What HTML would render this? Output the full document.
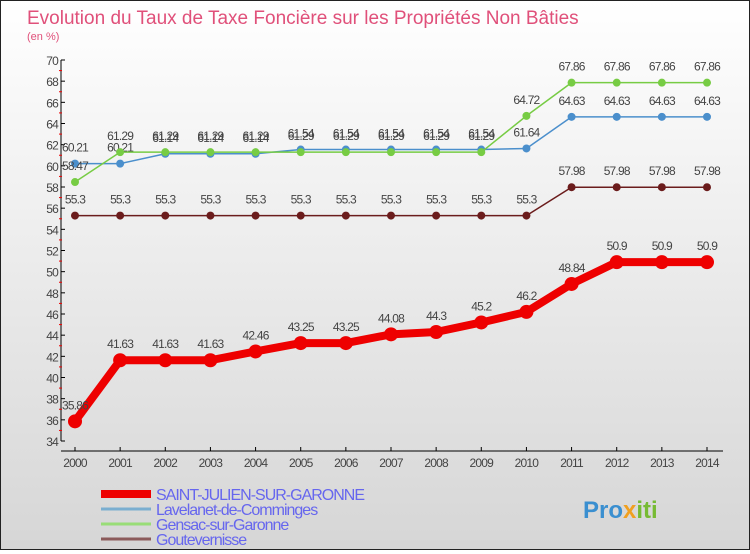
<!DOCTYPE html>
<html><head><meta charset="utf-8"><style>
html,body{margin:0;padding:0}
body{width:750px;height:550px;overflow:hidden;font-family:"Liberation Sans",sans-serif}
#wrap{position:relative;width:748px;height:548px;border:1px solid #222;background:linear-gradient(#ffffff,#d6d6d6)}
</style></head><body>
<div id="wrap">
<svg id="chart" width="748" height="548"></svg>
</div>
<script>
const years=[2000,2001,2002,2003,2004,2005,2006,2007,2008,2009,2010,2011,2012,2013,2014];
const saint=[35.86,41.63,41.63,41.63,42.46,43.25,43.25,44.08,44.3,45.2,46.2,48.84,50.9,50.9,50.9];
const lave=[60.21,60.21,61.14,61.14,61.14,61.54,61.54,61.54,61.54,61.54,61.64,64.63,64.63,64.63,64.63];
const gens=[58.47,61.29,61.29,61.29,61.29,61.29,61.29,61.29,61.29,61.29,64.72,67.86,67.86,67.86,67.86];
const gout=[55.3,55.3,55.3,55.3,55.3,55.3,55.3,55.3,55.3,55.3,55.3,57.98,57.98,57.98,57.98];
const yTicks=[34,36,38,40,42,44,46,48,50,52,54,56,58,60,62,64,66,68,70];
const ns="http://www.w3.org/2000/svg";
const svg=document.getElementById('chart');
const X=i=>74+i*(632/14);
const Y=v=>440-(v-34)*(381/36);
function mk(t,a,p){const e=document.createElementNS(ns,t);for(const k in a)e.setAttribute(k,a[k]);(p||svg).appendChild(e);return e;}
let t=mk('text',{x:26,y:23,'font-size':19,fill:'#e0507a'});t.textContent='Evolution du Taux de Taxe Foncière sur les Propriétés Non Bâties';

t=mk('text',{x:26,y:39,'font-size':11,fill:'#e0507a'});t.textContent='(en %)';

let ax=mk('line',{x1:60,y1:Y(70),x2:60,y2:Y(34),stroke:'#000'});

ax=mk('line',{x1:60,y1:450,x2:722,y2:450,stroke:'#000'});

yTicks.forEach(v=>{
 mk('line',{x1:60,y1:Y(v),x2:64,y2:Y(v),stroke:'#000'});
 if(v<70)mk('line',{x1:58,y1:Y(v+1),x2:61,y2:Y(v+1),stroke:'#e00'});
 const l=mk('text',{x:57,y:Y(v)+5,'font-size':12,fill:'#444','text-anchor':'end','letter-spacing':'-0.8'});l.textContent=v;
 
});
years.forEach((yr,i)=>{
 mk('line',{x1:X(i),y1:446,x2:X(i),y2:450,stroke:'#000'});
 const l=mk('text',{x:X(i),y:466,'font-size':12,fill:'#444','text-anchor':'middle','letter-spacing':'-0.8'});l.textContent=yr;
 
});
function series(data,color,w,r,name){
 const g=mk('g',{});
 
 mk('polyline',{points:data.map((v,i)=>X(i)+','+Y(v)).join(' '),fill:'none',stroke:color,'stroke-width':w,'stroke-linejoin':'round'},g);
 data.forEach((v,i)=>{
  const c=mk('circle',{cx:X(i),cy:Y(v),r:r,fill:color},g);
  
  const l=mk('text',{x:X(i),y:Y(v)-12,'font-size':12,fill:'#444','text-anchor':'middle','letter-spacing':'-0.8'},g);l.textContent=v;
 });
}
series(lave,'#4b8fcc',1.5,4,'lavelanet-series');
series(gens,'#77cc44',1.5,4,'gensac-series');
series(gout,'#6b1c1c',1.5,4,'goutevernisse-series');
series(saint,'#ee0000',8,7,'saint-julien-series');
const leg=[['SAINT-JULIEN-SUR-GARONNE','#ee0000',8],['Lavelanet-de-Comminges','#7aaed0',3],['Gensac-sur-Garonne','#99dd77',3],['Goutevernisse','#8b5a5a',3]];
leg.forEach((e,i)=>{
 const y=493+i*15;
 const g=mk('g',{});
 mk('line',{x1:100,y1:y,x2:150,y2:y,stroke:e[1],'stroke-width':e[2]},g);
 const l=mk('text',{x:155,y:y+6,'font-size':16,fill:'#6666ee','letter-spacing':'-1'},g);l.textContent=e[0];
});
const logo=mk('text',{x:582,y:517,'font-size':24,'font-weight':'bold',fill:'#3a8fd0'});
logo.innerHTML='Pro<tspan fill="#f0a020">x</tspan><tspan fill="#77bb33">iti</tspan>';

</script>
</body></html>
